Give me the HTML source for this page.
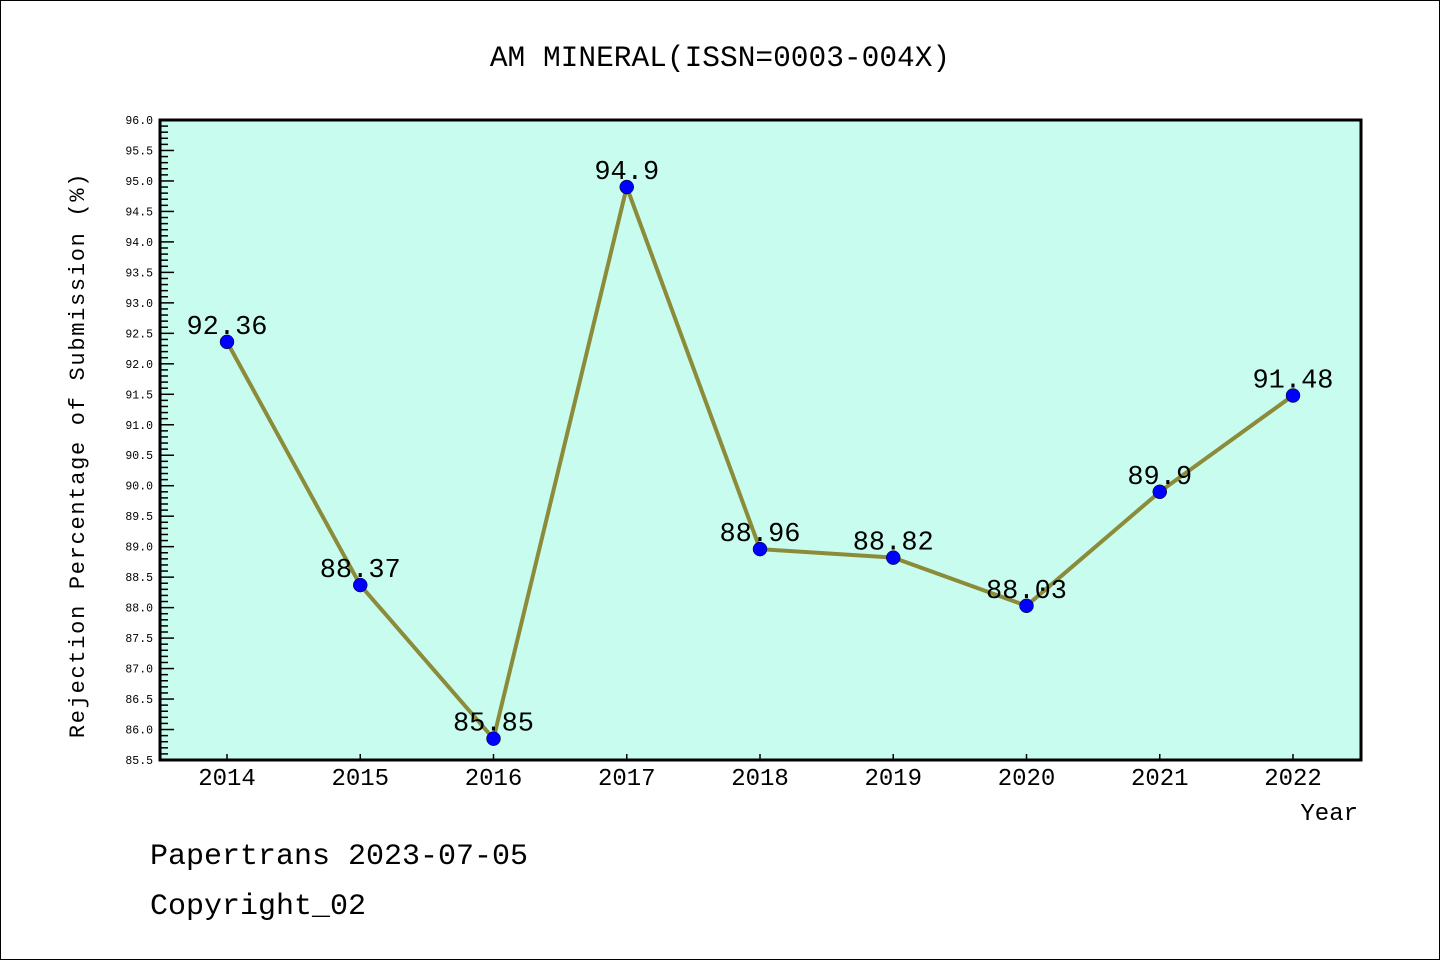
<!DOCTYPE html>
<html><head><meta charset="utf-8"><style>
html,body{margin:0;padding:0;background:#fff}
svg{display:block}
text{font-family:"Liberation Mono","DejaVu Sans Mono",monospace}
</style></head><body>
<svg id="chart" width="1440" height="960">
<rect x="0.5" y="0.5" width="1439" height="959" fill="#fff" stroke="#000"/>
<text x="720" y="66" text-anchor="middle" font-size="29.5">AM MINERAL(ISSN=0003-004X)</text>
<rect x="160" y="120" width="1201" height="640" fill="#c8fcee" stroke="#000" stroke-width="3"/>
<g id="yaxis"></g>
<g id="xaxis"></g>
<g id="series"></g>
<text transform="translate(84,455) rotate(-90)" text-anchor="middle" font-size="22" letter-spacing="1.7">Rejection Percentage of Submission (%)</text>
<text x="1358" y="820" text-anchor="end" font-size="24">Year</text>
<text x="150" y="864" font-size="30">Papertrans 2023-07-05</text>
<text x="150" y="914" font-size="30">Copyright_02</text>
</svg>
<script>
const years=["2014","2015","2016","2017","2018","2019","2020","2021","2022"];
const values=[92.36,88.37,85.85,94.9,88.96,88.82,88.03,89.9,91.48];
const labels=["92.36","88.37","85.85","94.9","88.96","88.82","88.03","89.9","91.48"];
const yMin=85.5, yMax=96.0;
const NS="http://www.w3.org/2000/svg";
function y(v){return 760-(v-yMin)/(yMax-yMin)*640;}
function x(i){return 227+i*(1293-227)/(years.length-1);}
function mk(tag,attrs,parent){const e=document.createElementNS(NS,tag);for(const k in attrs)e.setAttribute(k,attrs[k]);parent.appendChild(e);return e;}
const ya=document.getElementById('yaxis');
for(let k=0;k<=Math.round((yMax-yMin)*10);k++){
  const v=yMin+k*0.1, yy=y(v), major=k%5===0;
  const t=mk('line',{x1:160,x2:160+(major?14:8),y1:yy,y2:yy,stroke:'#000','stroke-width':1.5},ya);
  
  
  if(major){const l=mk('text',{x:153,y:yy+4,'text-anchor':'end','font-size':11.5,'font-family':'DejaVu Sans, sans-serif'},ya);l.textContent=v.toFixed(1);
  
  }
}
const xa=document.getElementById('xaxis');
years.forEach((yr,i)=>{
  const t=mk('line',{x1:x(i),x2:x(i),y1:760,y2:754,stroke:'#000','stroke-width':1.5},xa);
  
  
  const l=mk('text',{x:x(i),y:785,'text-anchor':'middle','font-size':24,'font-family':'DejaVu Sans, sans-serif'},xa);l.textContent=yr;
  
  
});
const s=document.getElementById('series');
const ln=mk('polyline',{points:values.map((v,i)=>x(i)+','+y(v)).join(' '),fill:'none',stroke:'#8b8b3a','stroke-width':4},s);


values.forEach((v,i)=>{
  const c=mk('circle',{cx:x(i),cy:y(v),r:7,fill:'#0000ff',stroke:'#000','stroke-width':0.5},s);
  
  
  const l=mk('text',{x:x(i),y:y(v)-8,'text-anchor':'middle','font-size':27},s);l.textContent=labels[i];
  
  
});
</script>
</body></html>
